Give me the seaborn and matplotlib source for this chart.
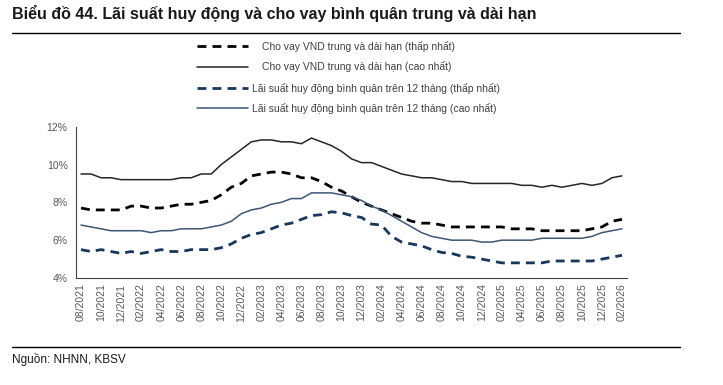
import numpy as np
import pandas as pd
import matplotlib.pyplot as plt
import seaborn as sns
from matplotlib.lines import Line2D

# Tháng 08/2021 -> 02/2026
thang = pd.date_range('2021-08-01', '2026-02-01', freq='MS')
nhan_thang = [d.strftime('%m/%Y') for d in thang]

cho_vay_thap = [7.7, 7.6, 7.6, 7.6, 7.6, 7.8, 7.8, 7.7, 7.7, 7.8,
                7.9, 7.9, 8.0, 8.1, 8.4, 8.8, 9.0, 9.4, 9.5, 9.6,
                9.6, 9.5, 9.3, 9.3, 9.1, 8.8, 8.6, 8.3, 8.0, 7.8,
                7.6, 7.4, 7.2, 7.0, 6.9, 6.9, 6.8, 6.7, 6.7, 6.7,
                6.7, 6.7, 6.7, 6.6, 6.6, 6.6, 6.5, 6.5, 6.5, 6.5,
                6.5, 6.6, 6.7, 7.0, 7.1]
cho_vay_cao = [9.5, 9.5, 9.3, 9.3, 9.2, 9.2, 9.2, 9.2, 9.2, 9.2,
               9.3, 9.3, 9.5, 9.5, 10.0, 10.4, 10.8, 11.2, 11.3, 11.3,
               11.2, 11.2, 11.1, 11.4, 11.2, 11.0, 10.7, 10.3, 10.1, 10.1,
               9.9, 9.7, 9.5, 9.4, 9.3, 9.3, 9.2, 9.1, 9.1, 9.0,
               9.0, 9.0, 9.0, 9.0, 8.9, 8.9, 8.8, 8.9, 8.8, 8.9,
               9.0, 8.9, 9.0, 9.3, 9.4]
huy_dong_thap = [5.5, 5.4, 5.5, 5.4, 5.3, 5.4, 5.3, 5.4, 5.5, 5.4,
                 5.4, 5.5, 5.5, 5.5, 5.6, 5.8, 6.1, 6.3, 6.4, 6.6,
                 6.8, 6.9, 7.1, 7.3, 7.35, 7.5, 7.45, 7.3, 7.2, 6.85,
                 6.8, 6.2, 5.9, 5.8, 5.7, 5.5, 5.35, 5.3, 5.15, 5.1,
                 5.0, 4.9, 4.8, 4.8, 4.8, 4.8, 4.8, 4.9, 4.9, 4.9,
                 4.9, 4.9, 5.0, 5.1, 5.2]
huy_dong_cao = [6.8, 6.7, 6.6, 6.5, 6.5, 6.5, 6.5, 6.4, 6.5, 6.5,
                6.6, 6.6, 6.6, 6.7, 6.8, 7.0, 7.4, 7.6, 7.7, 7.9,
                8.0, 8.2, 8.2, 8.5, 8.5, 8.5, 8.4, 8.3, 8.1, 7.8,
                7.6, 7.3, 7.0, 6.7, 6.4, 6.2, 6.1, 6.0, 6.0, 6.0,
                5.9, 5.9, 6.0, 6.0, 6.0, 6.0, 6.1, 6.1, 6.1, 6.1,
                6.1, 6.2, 6.4, 6.5, 6.6]

ten_chuoi = ['Cho vay VND trung và dài hạn (thấp nhất)',
             'Cho vay VND trung và dài hạn (cao nhất)',
             'Lãi suất huy động bình quân trên 12 tháng (thấp nhất)',
             'Lãi suất huy động bình quân trên 12 tháng (cao nhất)']
mau = ['#000000', '#262626', '#17375e', '#3d5676']
kieu = [(3.2, 2.2), None, (3.2, 2.2), None]
do_day = [2.0, 1.1, 2.0, 1.1]

sns.set_style('white')
plt.rcParams['font.family'] = ['Liberation Sans Narrow', 'Liberation Sans', 'DejaVu Sans']

fig = plt.figure(figsize=(7.23, 3.85), dpi=100)
ax = fig.add_axes([76 / 723, 1 - 278 / 385, (627 - 76) / 723, (278 - 126.7) / 385])

x = np.arange(len(thang))
duong = []
for vals, m, k, w in zip([cho_vay_thap, cho_vay_cao, huy_dong_thap, huy_dong_cao], mau, kieu, do_day):
    sns.lineplot(x=x, y=vals, ax=ax, color=m, linewidth=w)
    ln = ax.lines[-1]
    if k is not None:
        ln.set_dashes(k)
    duong.append(ln)

ax.set_xlim(-0.5, len(thang) - 0.5)
ax.set_ylim(4, 12)
ax.set_yticks([4, 6, 8, 10, 12])
ax.set_yticklabels([f'{v}%' for v in [4, 6, 8, 10, 12]])
ax.set_xticks(x[::2])
ax.set_xticklabels(nhan_thang[::2], rotation=90)
ax.set_xticks(np.arange(-0.5, len(thang) - 1, 2), minor=True)
ax.tick_params(axis='x', which='major', length=0, pad=4, labelsize=7.5, labelcolor='#595959')
ax.tick_params(axis='x', which='minor', direction='in', length=3, width=0.8, color='#404040')
ax.tick_params(axis='y', direction='out', length=3, width=0.8, color='#404040',
               labelsize=7.5, labelcolor='#595959', pad=3)
ax.set_xlabel('')
ax.set_ylabel('')
for s in ['top', 'right']:
    ax.spines[s].set_visible(False)
for s in ['left', 'bottom']:
    ax.spines[s].set_color('#404040')
    ax.spines[s].set_linewidth(0.8)

# chú thích: 2 nhóm như bản gốc (chữ lệch nhau một chút)
leg1 = fig.legend(duong[:2], ten_chuoi[:2], loc='upper left',
                  bbox_to_anchor=(197 / 723, 1 - 41 / 385),
                  frameon=False, fontsize=7.5, handlelength=4.9, handletextpad=1.3,
                  labelspacing=0.9, labelcolor='#404040', borderaxespad=0, borderpad=0)
fig.legend(duong[2:], ten_chuoi[2:], loc='upper left',
           bbox_to_anchor=(197 / 723, 1 - 82.5 / 385),
           frameon=False, fontsize=7.5, handlelength=4.9, handletextpad=0.4,
           labelspacing=0.9, labelcolor='#404040', borderaxespad=0, borderpad=0)

fig.text(12 / 723, 1 - 14 / 385, 'Biểu đồ 44. Lãi suất huy động và cho vay bình quân trung và dài hạn',
         fontsize=11.5, fontweight='bold', color='#1a1a1a', va='center', ha='left')
fig.add_artist(Line2D([12 / 723, 680 / 723], [1 - 33 / 385] * 2, color='black', lw=1))
fig.add_artist(Line2D([12 / 723, 680 / 723], [1 - 347 / 385] * 2, color='black', lw=1))
fig.text(12 / 723, 1 - 359 / 385, 'Nguồn: NHNN, KBSV', fontsize=8.5, color='#1a1a1a',
         va='center', ha='left')

fig.savefig('out.png', dpi=100)
